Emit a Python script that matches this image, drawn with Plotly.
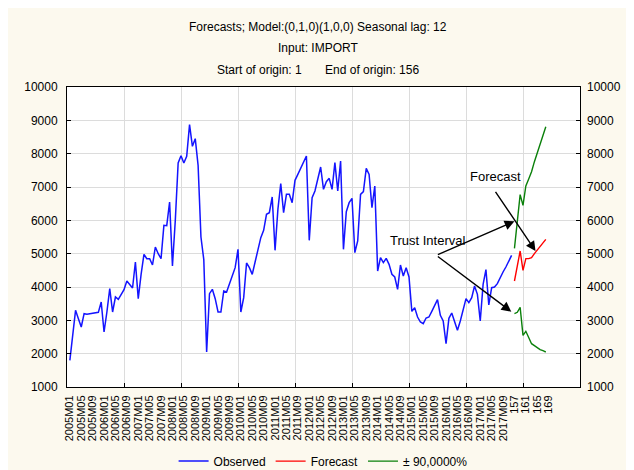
import plotly.graph_objects as go

# ---------------- data ----------------
obs_index = list(range(1, 157))
observed = [
    1800, 2550, 3300, 3050, 2800, 3200, 3180, 3200, 3210, 3220,
    3240, 3550, 2650, 3250, 3950, 3250, 3700, 3630, 3780, 3920,
    4180, 4070, 3970, 4750, 3650, 4380, 4980, 4850, 4850, 4660,
    5200, 5000, 4850, 5850, 5840, 6550, 4630, 6000, 7720, 7940,
    7720, 7920, 8870, 8220, 8450, 7650, 5500, 4820, 2050, 3800,
    3930, 3650, 3250, 3250, 3880, 3850, 4100, 4350, 4580, 5130,
    3250, 3680, 4720, 4580, 4380, 4750, 5160, 5480, 5700, 6180,
    6230, 6700, 5100, 6330, 7100, 6230, 6780, 6780, 6530, 7200,
    7380, 7580, 7730, 7930, 5400, 6680, 6880, 7230, 7600, 6930,
    7160, 7260, 6930, 7730, 6880, 7780, 5130, 6260, 6530, 6660,
    5030, 5380, 6780, 6860, 7560, 7380, 6380, 7030, 4480, 4880,
    4730, 4860, 4680, 4380, 4300, 3930, 4660, 4330, 4580, 4300,
    3270, 3380, 3100, 2950, 2900, 3070, 3100, 3270, 3450, 3620,
    3150, 2980, 2300, 3060, 3220, 2980, 2700, 2980, 3280, 3650,
    3530, 3680, 4030, 3780, 2980, 4080, 4520, 3460, 3980, 4000,
    4100, 4300, 4450, 4600, 4780, 4950,
]

fc_index = list(range(157, 169))
forecast = [4180, 4620, 5080, 4500, 4850, 4850, 4880, 5000, 5100, 5200, 5320, 5430]
upper_90 = [5160, 6000, 6770, 6450, 7030, 7240, 7460, 7760, 8030, 8280, 8550, 8810]
lower_90 = [3200, 3240, 3390, 2550, 2670, 2460, 2300, 2240, 2180, 2120, 2090, 2050]

tick_positions = list(range(1, 170, 4))
tick_labels = [
    "2005M01", "2005M05", "2005M09", "2006M01", "2006M05", "2006M09",
    "2007M01", "2007M05", "2007M09", "2008M01", "2008M05", "2008M09",
    "2009M01", "2009M05", "2009M09", "2010M01", "2010M05", "2010M09",
    "2011M01", "2011M05", "2011M09", "2012M01", "2012M05", "2012M09",
    "2013M01", "2013M05", "2013M09", "2014M01", "2014M05", "2014M09",
    "2015M01", "2015M05", "2015M09", "2016M01", "2016M05", "2016M09",
    "2017M01", "2017M05", "2017M09", "157", "161", "165", "169",
]
grid_positions = [20, 40, 60, 80, 100, 120, 140, 160]
y_ticks = [1000, 2000, 3000, 4000, 5000, 6000, 7000, 8000, 9000, 10000]
y_tick_labels = ["1000", "2000", "3000", "4000", "5000",
                 "6000", "7000", "8000", "9000", "10000"]

assert len(observed) == 156 and len(tick_labels) == len(tick_positions)

FONT = "Liberation Sans, Arial, sans-serif"
CREAM = "#fcf9ee"
GRID = "#dcdcdc"

fig = go.Figure()
fig.add_trace(go.Scatter(x=obs_index, y=observed, mode="lines", name="Observed",
                         line=dict(color="#1414ff", width=1.5)))
fig.add_trace(go.Scatter(x=fc_index, y=forecast, mode="lines", name="Forecast",
                         line=dict(color="#ff0000", width=1.4)))
fig.add_trace(go.Scatter(x=fc_index, y=upper_90, mode="lines", name="± 90,0000%",
                         legendgroup="ci", line=dict(color="#0a800a", width=1.4)))
fig.add_trace(go.Scatter(x=fc_index, y=lower_90, mode="lines", name="± 90,0000%",
                         legendgroup="ci", showlegend=False,
                         line=dict(color="#0a800a", width=1.4)))
# helper trace for the grid / right axes
fig.add_trace(go.Scatter(x=[None], y=[None], xaxis="x2", yaxis="y2",
                         showlegend=False, hoverinfo="skip"))

annotations = []
for txt, yp in [("Forecasts; Model:(0,1,0)(1,0,0) Seasonal lag: 12", 27),
                ("Input: IMPORT", 48),
                ("Start of origin: 1       End of origin: 156", 70)]:
    annotations.append(dict(text=txt, xref="paper", yref="paper",
                            x=(318 - 67) / 513, y=(387 - yp) / 300,
                            xanchor="center", yanchor="middle", showarrow=False,
                            font=dict(family=FONT, size=12, color="black")))
annotations.append(dict(text="Trust Interval", x=126.4, y=5400, xref="x", yref="y",
                        showarrow=False, font=dict(family=FONT, size=13, color="black")))
annotations.append(dict(text="Forecast", x=150.5, y=7330, xref="x", yref="y",
                        showarrow=False, font=dict(family=FONT, size=13, color="black")))
for (hx, hy, tx, ty) in [(157.0, 5970, 129.6, 4950),
                         (155.9, 3260, 129.6, 4950),
                         (164.4, 5080, 150.0, 6900)]:
    annotations.append(dict(text="", x=hx, y=hy, ax=tx, ay=ty, xref="x", yref="y",
                            axref="x", ayref="y", showarrow=True, arrowhead=2,
                            arrowsize=1.4, arrowwidth=1.4, arrowcolor="black",
                            standoff=0, startstandoff=0))

fig.update_layout(
    width=634, height=470,
    margin=dict(l=59, r=62, t=79, b=91, pad=0, autoexpand=False),
    paper_bgcolor=CREAM, plot_bgcolor="white",
    font=dict(family=FONT, size=12, color="black"),
    showlegend=True,
    legend=dict(orientation="h", xref="container", yref="container",
                x=0.497, xanchor="center", y=0.036, yanchor="middle",
                font=dict(family=FONT, size=12), bgcolor="rgba(0,0,0,0)",
                itemwidth=30, tracegroupgap=0),
    annotations=annotations,
    xaxis=dict(range=[0, 180], tickmode="array", tickvals=tick_positions,
               ticktext=tick_labels, tickangle=-90, tickfont=dict(size=11),
               showgrid=False, ticks="", showline=True, linecolor="black",
               linewidth=1, mirror=True, zeroline=False, ticklabelstandoff=3,
               automargin=False),
    xaxis2=dict(range=[0, 180], overlaying="x", anchor="y", tickmode="array",
                tickvals=grid_positions, showgrid=True, gridcolor=GRID,
                ticks="inside", ticklen=4, tickcolor="black",
                showticklabels=False, showline=False, zeroline=False,
                automargin=False),
    yaxis=dict(range=[1000, 10000], tickmode="array", tickvals=y_ticks,
               ticktext=y_tick_labels,
               showgrid=True, gridcolor=GRID, ticks="inside", ticklen=4,
               tickcolor="black", showline=True, linecolor="black", linewidth=1,
               mirror=True, zeroline=False, tickfont=dict(size=12),
               ticklabelstandoff=6, automargin=False),
    yaxis2=dict(range=[1000, 10000], overlaying="y", side="right", anchor="x",
                tickmode="array", tickvals=y_ticks, ticktext=y_tick_labels,
                showgrid=False, ticks="inside", ticklen=4, tickcolor="black",
                zeroline=False, tickfont=dict(size=12), ticklabelstandoff=6,
                showline=False, automargin=False),
)

fig.write_html("out.html")
